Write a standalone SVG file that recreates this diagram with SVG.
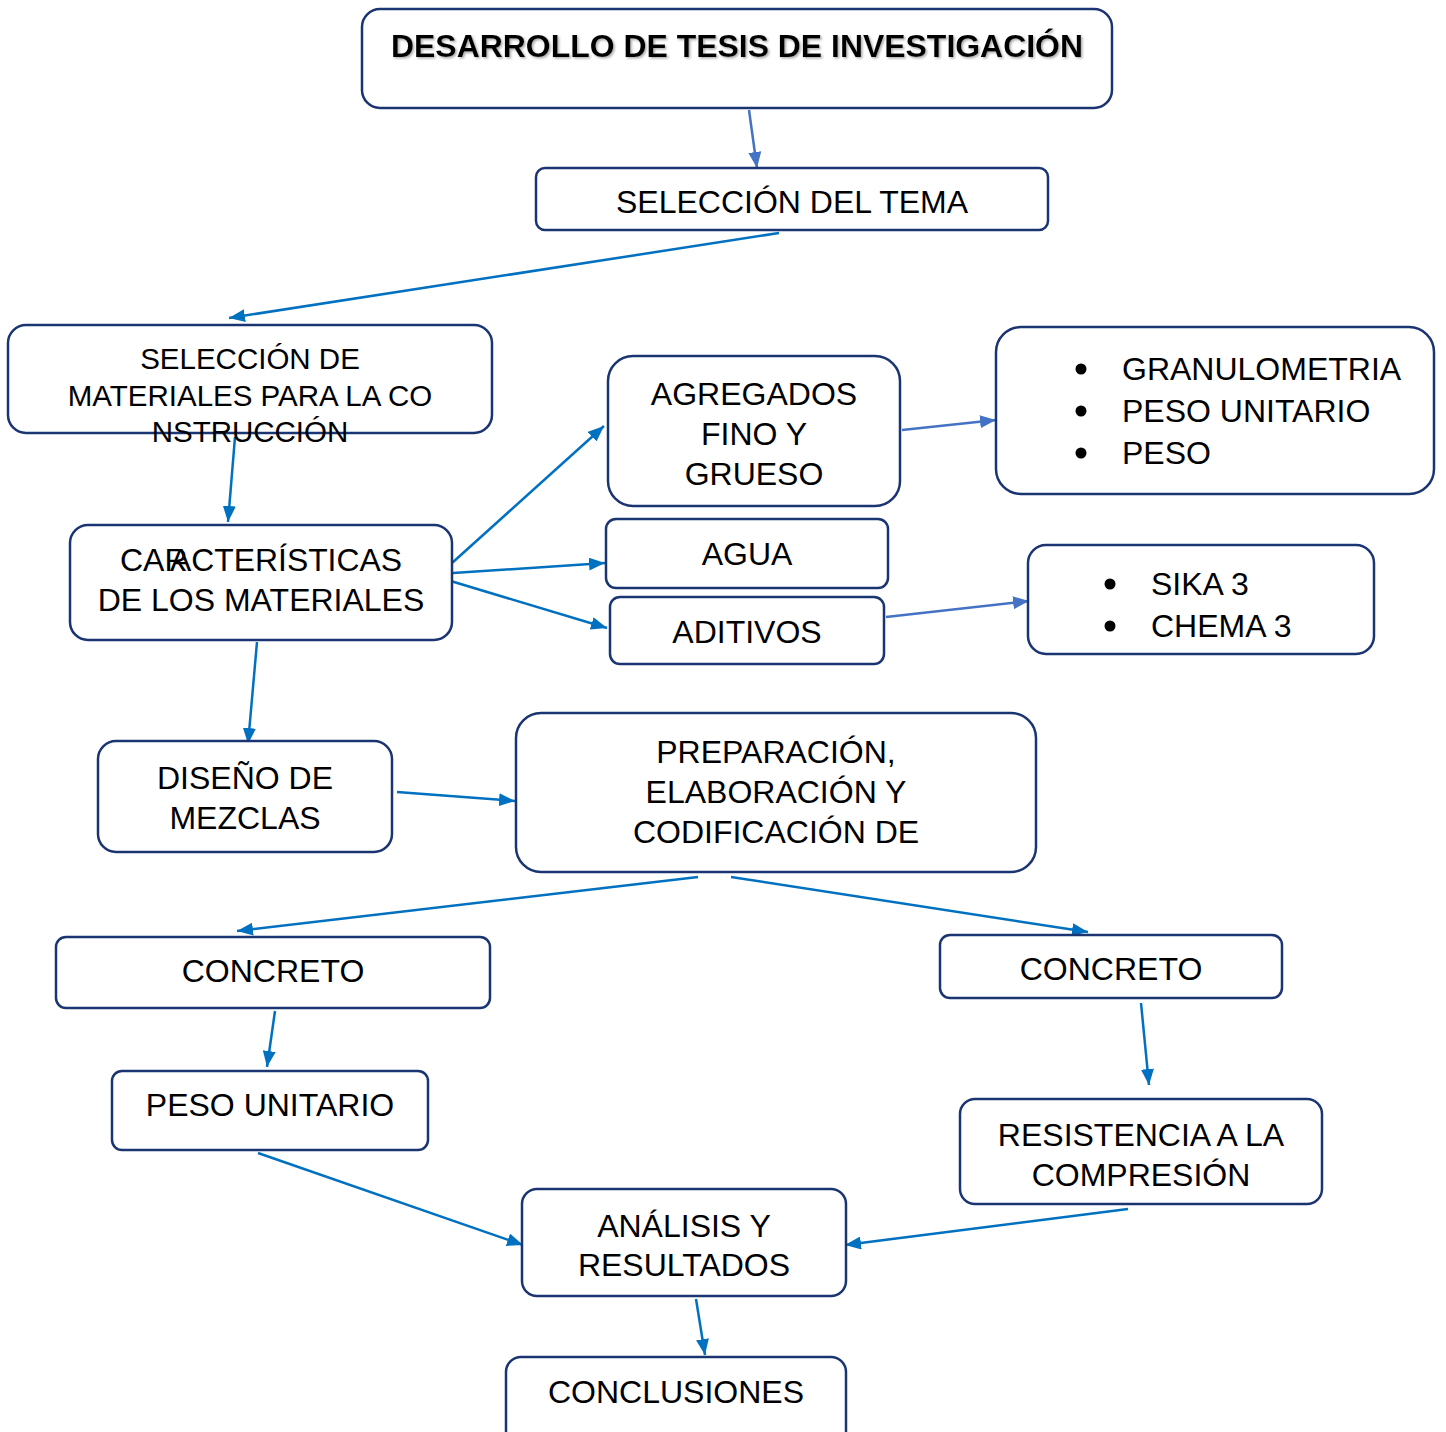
<svg xmlns="http://www.w3.org/2000/svg" width="1446" height="1432" viewBox="0 0 1446 1432">
<defs>
<style>
.box{fill:#fff;stroke:#1b3573;stroke-width:2.5}
.t{font-family:"Liberation Sans",Arial,sans-serif;font-size:32px;fill:#000;text-anchor:middle}
.tl{font-family:"Liberation Sans",Arial,sans-serif;font-size:32px;fill:#000}
.sm{font-size:29.5px}
.c{fill:none;stroke:#0070c0;stroke-width:2.5}
.c2{fill:none;stroke:#4472c4;stroke-width:2.5}
</style>
<marker id="a1" markerUnits="userSpaceOnUse" markerWidth="16" markerHeight="13" refX="16" refY="6.5" orient="auto"><path d="M0,0 L16,6.5 L0,13 z" fill="#0070c0"/></marker>
<marker id="a2" markerUnits="userSpaceOnUse" markerWidth="16" markerHeight="13" refX="16" refY="6.5" orient="auto"><path d="M0,0 L16,6.5 L0,13 z" fill="#4472c4"/></marker>
<filter id="sh" x="-5%" y="-30%" width="110%" height="160%"><feDropShadow dx="1.5" dy="1.5" stdDeviation="1" flood-color="#888" flood-opacity="0.7"/></filter>
</defs>
<rect width="1446" height="1432" fill="#fff"/>
<g id="connectors">
<line class="c2" x1="749" y1="110" x2="757" y2="168" marker-end="url(#a2)"/>
<line class="c" x1="779" y1="233" x2="229" y2="318" marker-end="url(#a1)"/>
<line class="c" x1="235" y1="437" x2="228" y2="522" marker-end="url(#a1)"/>
<line class="c" x1="452" y1="563" x2="604" y2="426" marker-end="url(#a1)"/>
<line class="c" x1="453" y1="573" x2="605" y2="563" marker-end="url(#a1)"/>
<line class="c" x1="444" y1="579" x2="607" y2="628" marker-end="url(#a1)"/>
<line class="c2" x1="902" y1="430" x2="996" y2="420" marker-end="url(#a2)"/>
<line class="c2" x1="886" y1="617" x2="1029" y2="601" marker-end="url(#a2)"/>
<line class="c" x1="257" y1="642" x2="248" y2="744" marker-end="url(#a1)"/>
<line class="c" x1="397" y1="792" x2="515" y2="801" marker-end="url(#a1)"/>
<line class="c" x1="698" y1="877" x2="237" y2="931" marker-end="url(#a1)"/>
<line class="c" x1="731" y1="877" x2="1088" y2="932" marker-end="url(#a1)"/>
<line class="c" x1="275" y1="1011" x2="267" y2="1067" marker-end="url(#a1)"/>
<line class="c" x1="1141" y1="1003" x2="1149" y2="1085" marker-end="url(#a1)"/>
<line class="c" x1="258" y1="1153" x2="523" y2="1245" marker-end="url(#a1)"/>
<line class="c" x1="1128" y1="1209" x2="845" y2="1245" marker-end="url(#a1)"/>
<line class="c" x1="696" y1="1299" x2="705" y2="1355" marker-end="url(#a1)"/>
</g>
<g id="n-title">
<rect class="box" x="362" y="9" width="750" height="99" rx="18"/>
<text class="tl" x="391" y="57" style="font-weight:bold;font-size:31px" textLength="692" lengthAdjust="spacingAndGlyphs" filter="url(#sh)">DESARROLLO DE TESIS DE INVESTIGACIÓN</text>
</g>
<g id="n-tema">
<rect class="box" x="536" y="168" width="512" height="62" rx="9"/>
<text class="t" x="792" y="213">SELECCIÓN DEL TEMA</text>
</g>
<g id="n-materiales">
<rect class="box" x="8" y="325" width="484" height="108" rx="18"/>
<text class="t sm" x="250" y="368.5">SELECCIÓN DE</text>
<text class="t sm" x="250" y="405.5">MATERIALES PARA LA CO</text>
<text class="t sm" x="250" y="441.5">NSTRUCCIÓN</text>
</g>
<g id="n-agregados">
<rect class="box" x="608" y="356" width="292" height="150" rx="25"/>
<text class="t" x="754" y="404.5">AGREGADOS</text>
<text class="t" x="754" y="444.5">FINO Y</text>
<text class="t" x="754" y="484.5">GRUESO</text>
</g>
<g id="n-granulometria">
<rect class="box" x="996" y="327" width="438" height="167" rx="25"/>
<circle cx="1081" cy="369" r="5.5"/>
<circle cx="1081" cy="411" r="5.5"/>
<circle cx="1081" cy="453" r="5.5"/>
<text class="tl" x="1122" y="379.5">GRANULOMETRIA</text>
<text class="tl" x="1122" y="421.5">PESO UNITARIO</text>
<text class="tl" x="1122" y="463.5">PESO</text>
</g>
<g id="n-caracteristicas">
<rect class="box" x="70" y="525" width="382" height="115" rx="18"/>
<text class="tl" x="120" y="571">CAR</text>
<text class="tl" x="170" y="571" textLength="232" lengthAdjust="spacingAndGlyphs">ACTERÍSTICAS</text>
<text class="t" x="261" y="611">DE LOS MATERIALES</text>
</g>
<g id="n-agua">
<rect class="box" x="606" y="519" width="282" height="69" rx="10"/>
<text class="t" x="747" y="564.5">AGUA</text>
</g>
<g id="n-aditivos">
<rect class="box" x="610" y="597" width="274" height="67" rx="10"/>
<text class="t" x="747" y="642.5">ADITIVOS</text>
</g>
<g id="n-sika">
<rect class="box" x="1028" y="545" width="346" height="109" rx="18"/>
<circle cx="1110" cy="584" r="5.5"/>
<circle cx="1110" cy="626" r="5.5"/>
<text class="tl" x="1151" y="594.5">SIKA 3</text>
<text class="tl" x="1151" y="636.5">CHEMA 3</text>
</g>
<g id="n-diseno">
<rect class="box" x="98" y="741" width="294" height="111" rx="18"/>
<text class="t" x="245" y="788.5">DISEÑO DE</text>
<text class="t" x="245" y="828.5">MEZCLAS</text>
</g>
<g id="n-preparacion">
<rect class="box" x="516" y="713" width="520" height="159" rx="25"/>
<text class="t" x="776" y="762.5">PREPARACIÓN,</text>
<text class="t" x="776" y="802.5">ELABORACIÓN Y</text>
<text class="t" x="776" y="842.5">CODIFICACIÓN DE</text>
</g>
<g id="n-concreto1">
<rect class="box" x="56" y="937" width="434" height="71" rx="10"/>
<text class="t" x="273" y="981.5">CONCRETO</text>
</g>
<g id="n-concreto2">
<rect class="box" x="940" y="935" width="342" height="63" rx="10"/>
<text class="t" x="1111" y="979.5">CONCRETO</text>
</g>
<g id="n-peso">
<rect class="box" x="112" y="1071" width="316" height="79" rx="10"/>
<text class="t" x="270" y="1115.5">PESO UNITARIO</text>
</g>
<g id="n-resistencia">
<rect class="box" x="960" y="1099" width="362" height="105" rx="15"/>
<text class="t" x="1141" y="1145.5">RESISTENCIA A LA</text>
<text class="t" x="1141" y="1185.5">COMPRESIÓN</text>
</g>
<g id="n-analisis">
<rect class="box" x="522" y="1189" width="324" height="107" rx="15"/>
<text class="t" x="684" y="1236.5">ANÁLISIS Y</text>
<text class="t" x="684" y="1275.5">RESULTADOS</text>
</g>
<g id="n-conclusiones">
<rect class="box" x="506" y="1357" width="340" height="90" rx="15"/>
<text class="t" x="676" y="1402.5">CONCLUSIONES</text>
</g>
</svg>
